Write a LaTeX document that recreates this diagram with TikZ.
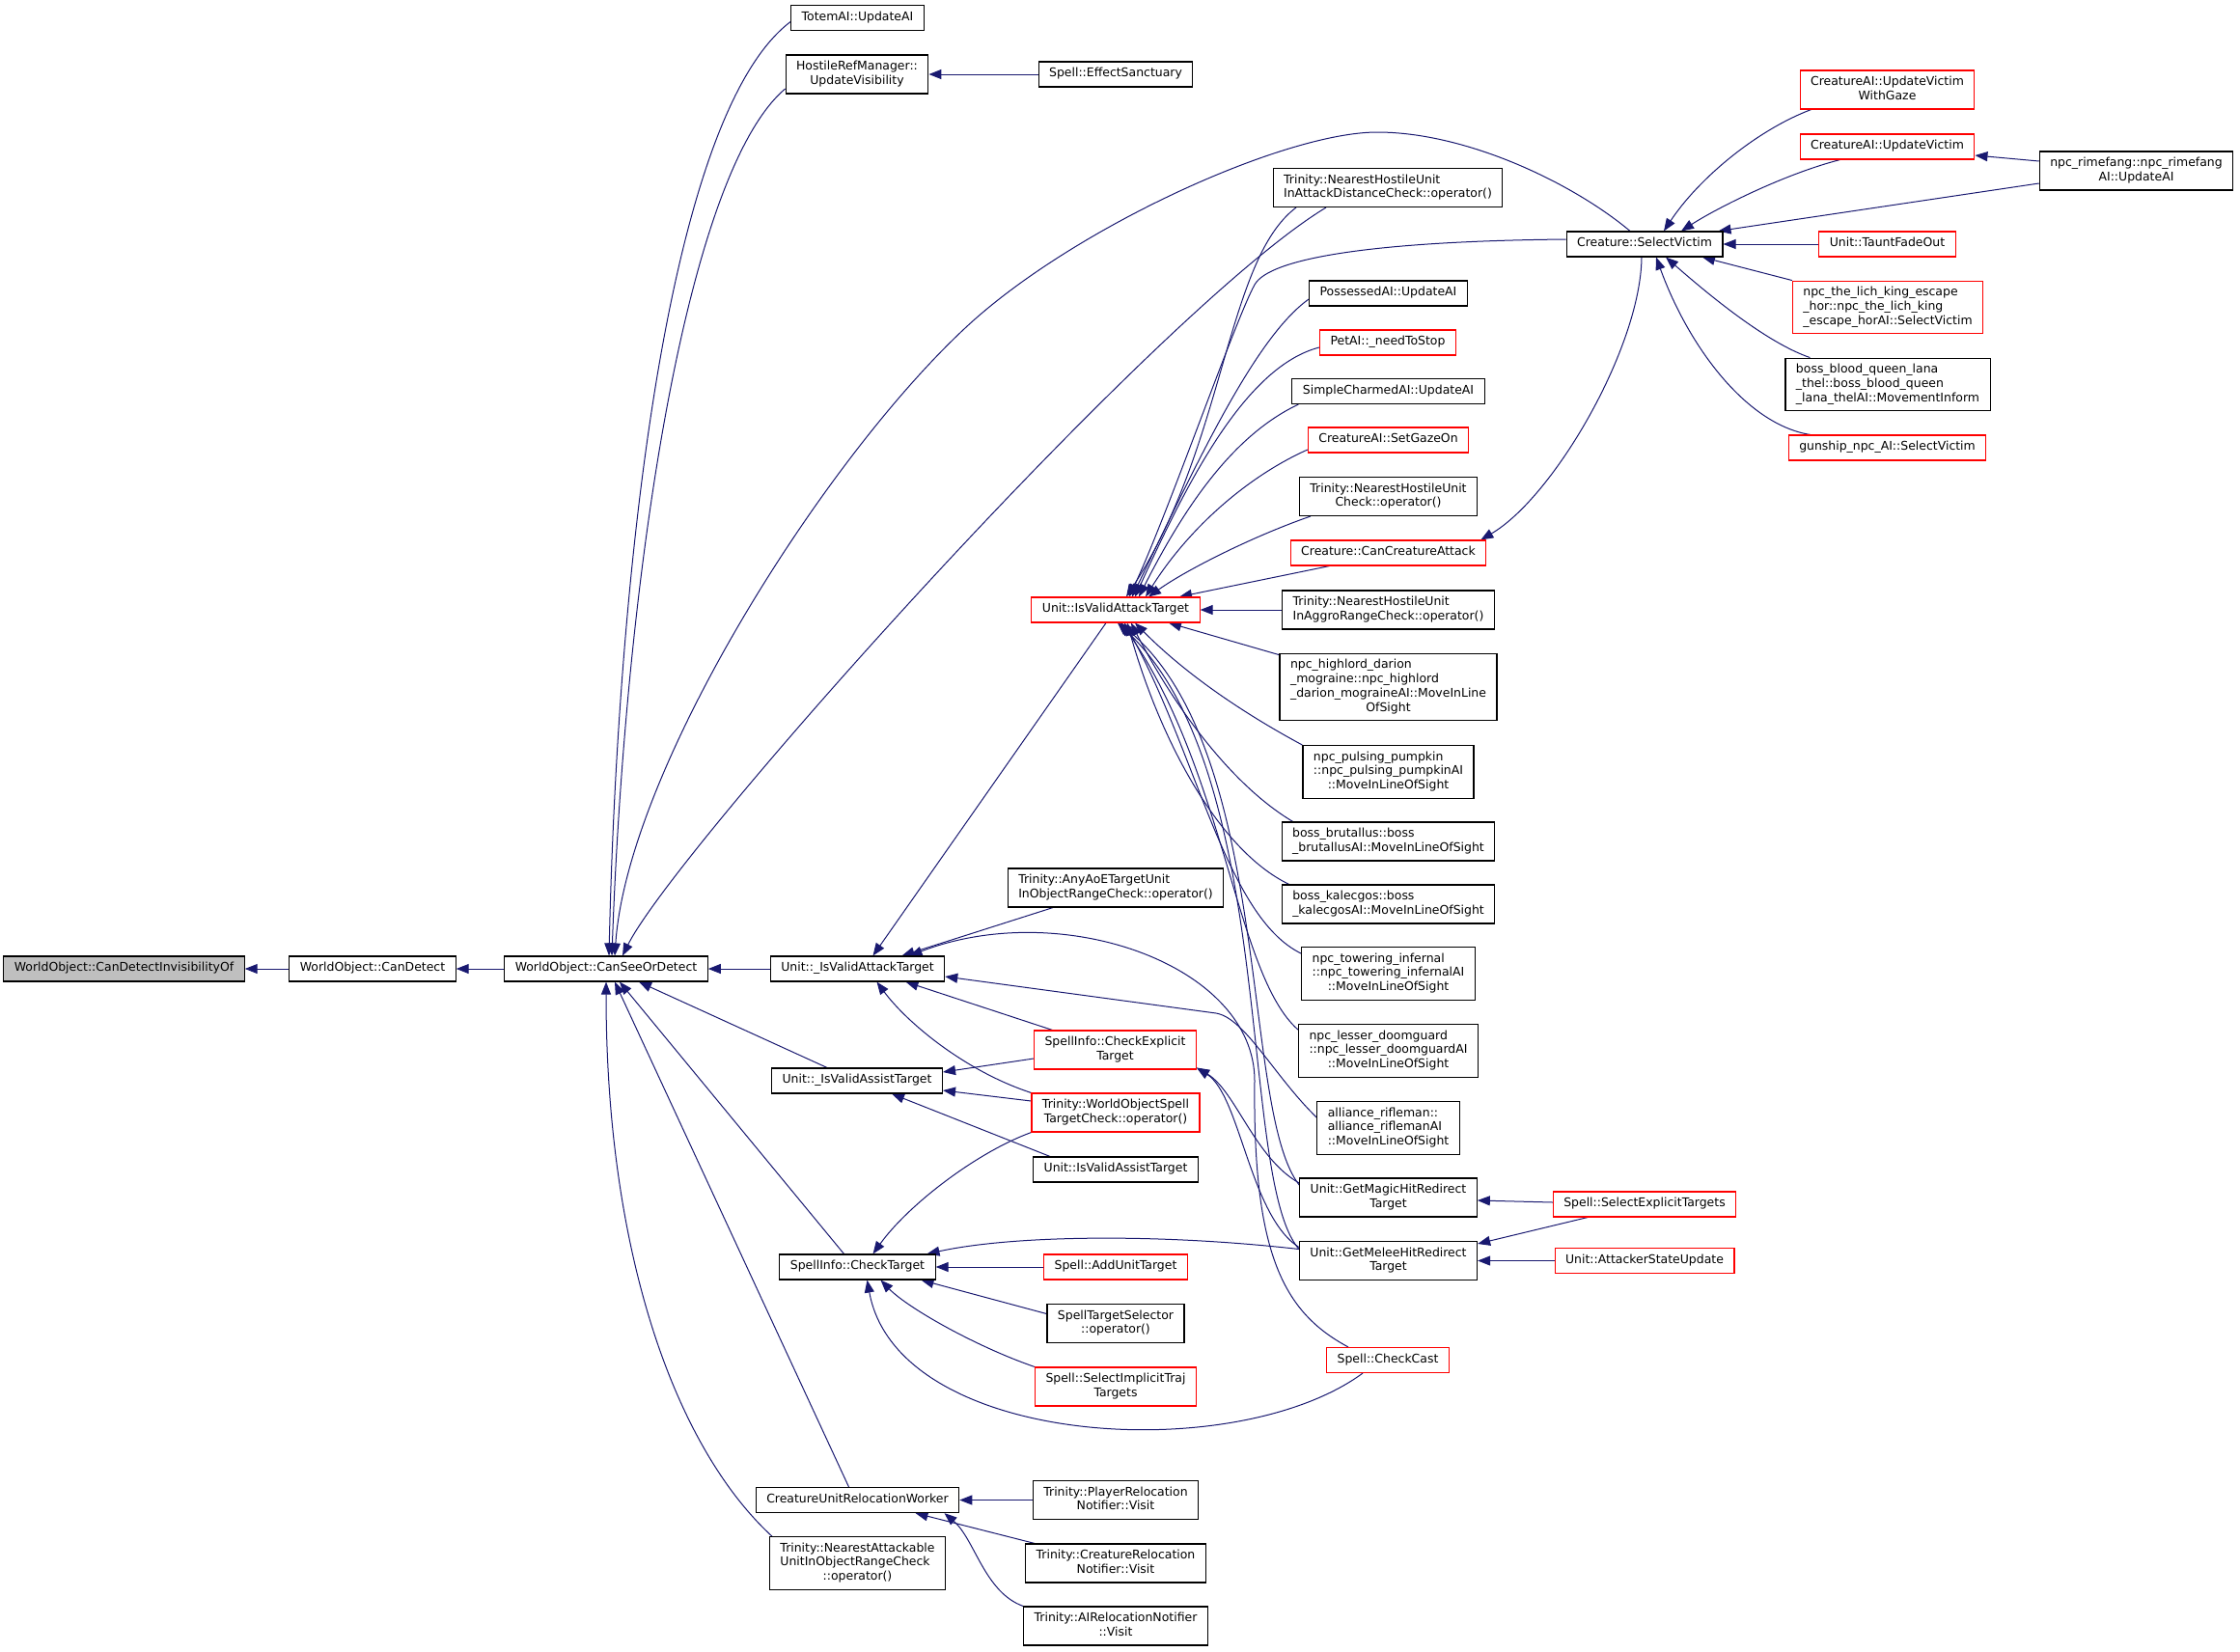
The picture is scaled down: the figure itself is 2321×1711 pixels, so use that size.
\documentclass[tikz,border=0pt]{standalone}
\usepackage{fontspec}
\setmainfont{DejaVu Sans}
\usetikzlibrary{arrows.meta,backgrounds}
\definecolor{edgeblue}{RGB}{25,25,112}
\definecolor{boxred}{RGB}{255,0,0}
\definecolor{rootgrey}{RGB}{191,191,191}
\newcommand{\lbl}[2]{\begin{tabular}{@{}l@{}}#1\\\multicolumn{1}{@{}c@{}}{#2}\end{tabular}}

\begin{document}
\begin{tikzpicture}[x=1pt,y=1pt]
\tikzstyle{func}=[rectangle,draw=black,line width=1.1pt,fill=white,inner xsep=11pt,inner ysep=5.2pt,minimum height=26pt,font=\fontsize{12.45}{14.8}\selectfont,execute at begin node=\strut]
\tikzstyle{redfunc}=[func,draw=boxred]
\tikzstyle{call}=[draw=edgeblue,line width=1pt,arrows={Triangle[length=13pt,width=10pt]-}]
\useasboundingbox (0,0) rectangle (2321,-1711);

\node [func,fill=rootgrey] (inv) at (128.5,-1004) {WorldObject::CanDetectInvisibilityOf};
\node [func] (det) at (386,-1004) {WorldObject::CanDetect};
\node [func] (see) at (628,-1004) {WorldObject::CanSeeOrDetect};
\node [func] (totem) at (888.5,-18.5) {TotemAI::UpdateAI};
\node [func] (hrm) at (888,-77) {\lbl{HostileRefManager::}{UpdateVisibility}};
\node [func] (sanct) at (1156,-77) {Spell::EffectSanctuary};
\node [func] (iadc) at (1438,-194.5) {\lbl{Trinity::NearestHostileUnit}{InAttackDistanceCheck::operator()}};
\node [func] (poss) at (1438.5,-304) {PossessedAI::UpdateAI};
\node [redfunc] (pet) at (1438,-355) {PetAI::\_needToStop};
\node [func] (simple) at (1438.5,-405.5) {SimpleCharmedAI::UpdateAI};
\node [redfunc] (gaze) at (1438.5,-456) {CreatureAI::SetGazeOn};
\node [func] (nhuc) at (1438.5,-514.5) {\lbl{Trinity::NearestHostileUnit}{Check::operator()}};
\node [redfunc] (cca) at (1438.5,-573) {Creature::CanCreatureAttack};
\node [redfunc] (iva) at (1156,-632) {Unit::IsValidAttackTarget};
\node [func] (aggro) at (1438.5,-632) {\lbl{Trinity::NearestHostileUnit}{InAggroRangeCheck::operator()}};
\node [func] (highlord) at (1438.5,-712) {\lbl{npc\_highlord\_darion\\\_mograine::npc\_highlord\\\_darion\_mograineAI::MoveInLine}{OfSight}};
\node [func] (pumpkin) at (1438.5,-800) {\lbl{npc\_pulsing\_pumpkin\\::npc\_pulsing\_pumpkinAI}{::MoveInLineOfSight}};
\node [func] (brutallus) at (1438.5,-872) {\lbl{boss\_brutallus::boss}{\_brutallusAI::MoveInLineOfSight}};
\node [func] (kalecgos) at (1438.5,-937) {\lbl{boss\_kalecgos::boss}{\_kalecgosAI::MoveInLineOfSight}};
\node [func] (towering) at (1438.5,-1009) {\lbl{npc\_towering\_infernal\\::npc\_towering\_infernalAI}{::MoveInLineOfSight}};
\node [func] (doomguard) at (1438.5,-1089) {\lbl{npc\_lesser\_doomguard\\::npc\_lesser\_doomguardAI}{::MoveInLineOfSight}};
\node [func] (rifleman) at (1438.5,-1169) {\lbl{alliance\_rifleman::\\alliance\_riflemanAI}{::MoveInLineOfSight}};
\node [func] (magic) at (1438.5,-1241) {\lbl{Unit::GetMagicHitRedirect}{Target}};
\node [func] (melee) at (1438.5,-1306.5) {\lbl{Unit::GetMeleeHitRedirect}{Target}};
\node [func] (aoe) at (1156,-920) {\lbl{Trinity::AnyAoETargetUnit}{InObjectRangeCheck::operator()}};
\node [func] (uiva) at (888.5,-1004) {Unit::\_IsValidAttackTarget};
\node [redfunc] (cet) at (1155.5,-1088) {\lbl{SpellInfo::CheckExplicit}{Target}};
\node [func] (uiast) at (888,-1120) {Unit::\_IsValidAssistTarget};
\node [redfunc] (wost) at (1156,-1153) {\lbl{Trinity::WorldObjectSpell}{TargetCheck::operator()}};
\node [func] (iast) at (1156,-1212) {Unit::IsValidAssistTarget};
\node [func] (ct) at (888.5,-1313) {SpellInfo::CheckTarget};
\node [redfunc] (aut) at (1156,-1313) {Spell::AddUnitTarget};
\node [func] (sts) at (1156,-1371.5) {\lbl{SpellTargetSelector}{::operator()}};
\node [redfunc] (sitt) at (1156,-1437) {\lbl{Spell::SelectImplicitTraj}{Targets}};
\node [redfunc] (cc) at (1438,-1409.5) {Spell::CheckCast};
\node [func] (curw) at (888.5,-1554.5) {CreatureUnitRelocationWorker};
\node [func] (prn) at (1156,-1554.5) {\lbl{Trinity::PlayerRelocation}{Notifier::Visit}};
\node [func] (nauc) at (888.5,-1620) {\lbl{Trinity::NearestAttackable\\UnitInObjectRangeCheck}{::operator()}};
\node [func] (crn) at (1156,-1620) {\lbl{Trinity::CreatureRelocation}{Notifier::Visit}};
\node [func] (airn) at (1156,-1685) {\lbl{Trinity::AIRelocationNotifier}{::Visit}};
\node [redfunc] (uvg) at (1955.5,-93) {\lbl{CreatureAI::UpdateVictim}{WithGaze}};
\node [redfunc] (uv) at (1955.5,-152) {CreatureAI::UpdateVictim};
\node [func] (rime) at (2213.5,-177) {\lbl{npc\_rimefang::npc\_rimefang}{AI::UpdateAI}};
\node [func] (sv) at (1704,-253) {Creature::SelectVictim};
\node [redfunc] (tfo) at (1955.5,-253) {Unit::TauntFadeOut};
\node [redfunc] (lich) at (1956,-318.5) {\lbl{npc\_the\_lich\_king\_escape\\\_hor::npc\_the\_lich\_king}{\_escape\_horAI::SelectVictim}};
\node [func] (blood) at (1956,-398.5) {\lbl{boss\_blood\_queen\_lana\\\_thel::boss\_blood\_queen}{\_lana\_thelAI::MovementInform}};
\node [redfunc] (gun) at (1955.5,-464) {gunship\_npc\_AI::SelectVictim};
\node [redfunc] (selexp) at (1704,-1248) {Spell::SelectExplicitTargets};
\node [redfunc] (asu) at (1704,-1306.5) {Unit::AttackerStateUpdate};

\begin{scope}[on background layer]
\path (inv) edge[call] (det);
\path (det) edge[call] (see);
\path (see) edge[call] (uiva);
\path (hrm) edge[call] (sanct);
\path (iva) edge[call] (aggro);
\path (ct) edge[call] (aut);
\path (curw) edge[call] (prn);
\path (sv) edge[call] (tfo);
\path (melee) edge[call] (asu);

\draw[call] ([xshift=3pt]see.north) .. controls (640,-600) and (690,-120) .. ([yshift=-4pt]totem.west);
\draw[call] ([xshift=6pt]see.north) .. controls (648,-600) and (710,-180) .. ([yshift=-15pt]hrm.west);
\draw[call] ([xshift=9pt]see.north) .. controls (650,-800) and (850,-480) .. (1000,-340) .. controls (1110,-237) and (1330,-137) .. (1427,-137) .. controls (1520,-137) and (1630,-190) .. ([xshift=-15pt]sv.north);
\draw[call] ([xshift=17pt]see.north) .. controls (700,-880) and (1200,-320) .. ([xshift=-64pt]iadc.south);
\draw[call] ([xshift=34pt]see.south) -- ([xshift=-31pt]uiast.north);
\draw[call] ([xshift=14pt]see.south) -- ([xshift=-14pt]ct.north);
\draw[call] ([xshift=9pt]see.south) -- ([xshift=-9pt]curw.north);
\draw[call] (see.south) .. controls (628,-1300) and (700,-1500) .. ([xshift=3pt]nauc.north west);

\draw[call] ([xshift=16pt]uiva.north) -- ([xshift=-10pt]iva.south);
\draw[call] ([xshift=46pt]uiva.north) -- ([xshift=-65pt]aoe.south);
\draw[call] ([xshift=54pt]uiva.north) .. controls (1100,-930) and (1300,-1000) .. (1300,-1120) .. controls (1298,-1300) and (1330,-1360) .. ([xshift=-41pt]cc.north);
\draw[call] ([yshift=-8pt]uiva.east) -- (1260,-1050) .. controls (1290,-1055) and (1320,-1115) .. ([yshift=11pt]rifleman.west);
\draw[call] ([xshift=50pt]uiva.south) -- ([xshift=-65pt]cet.north);
\draw[call] ([xshift=20pt]uiva.south) .. controls (940,-1060) and (1000,-1110) .. (wost.north west);

\draw[call] ([yshift=9pt]uiast.east) -- ([yshift=-9pt]cet.west);
\draw[call] ([yshift=-10pt]uiast.east) -- ([yshift=12pt]wost.west);
\draw[call] ([xshift=36pt]uiast.south) -- ([xshift=-68pt]iast.north);

\draw[call] ([xshift=16pt]ct.north) .. controls (940,-1250) and (1010,-1195) .. (wost.south west);
\draw[call] ([xshift=66pt]ct.south) -- ([yshift=10pt]sts.west);
\draw[call] ([xshift=24pt]ct.south) .. controls (940,-1355) and (1010,-1395) .. (sitt.north west);
\draw[call] ([xshift=10pt]ct.south) .. controls (930,-1500) and (1280,-1520) .. ([xshift=-26pt]cc.south);
\draw[call] ([xshift=72pt]ct.north) .. controls (1050,-1280) and (1200,-1278) .. ([yshift=12pt]melee.west);

\draw[call] ([xshift=60pt]curw.south) -- ([xshift=10pt]crn.north west);
\draw[call] ([xshift=90pt]curw.south) .. controls (1010,-1595) and (1020,-1650) .. (airn.north west);

\draw[call] ([xshift=11pt]iva.north) .. controls (1270,-460) and (1270,-270) .. ([xshift=-95pt]iadc.south);
\draw[call] ([xshift=14pt]iva.north) .. controls (1210,-533) and (1280,-331) .. (1300,-295) .. controls (1315,-268) and (1420,-250) .. ([yshift=5pt]sv.west);
\draw[call] ([xshift=17pt]iva.north) .. controls (1240,-480) and (1300,-350) .. ([yshift=-6pt]poss.west);
\draw[call] ([xshift=20pt]iva.north) .. controls (1230,-500) and (1290,-380) .. ([yshift=-5pt]pet.west);
\draw[call] ([xshift=24pt]iva.north) .. controls (1230,-520) and (1280,-450) .. ([xshift=7pt]simple.south west);
\draw[call] ([xshift=31pt]iva.north) .. controls (1230,-550) and (1290,-495) .. ([yshift=-10pt]gaze.west);
\draw[call] ([xshift=34pt]iva.north) .. controls (1230,-590) and (1300,-555) .. ([xshift=12pt]nhuc.south west);
\draw[call] ([xshift=66pt]iva.north) -- ([xshift=-61pt]cca.south);
\draw[call] ([xshift=55pt]iva.south) -- ([yshift=-2pt]highlord.north west);
\draw[call] ([xshift=20pt]iva.south) .. controls (1230,-700) and (1290,-740) .. (pumpkin.north west);
\draw[call] ([xshift=16pt]iva.south) .. controls (1210,-720) and (1270,-810) .. ([xshift=12pt]brutallus.north west);
\draw[call] ([xshift=12pt]iva.south) .. controls (1200,-760) and (1260,-880) .. ([xshift=8pt]kalecgos.north west);
\draw[call] ([xshift=9pt]iva.south) .. controls (1240,-780) and (1270,-950) .. ([yshift=-7pt]towering.north west);
\draw[call] ([xshift=6pt]iva.south) .. controls (1270,-800) and (1280,-1010) .. ([yshift=-6pt]doomguard.north west);
\draw[call] ([xshift=4pt]iva.south) .. controls (1320,-780) and (1285,-1150) .. ([yshift=13pt]magic.west);
\draw[call] ([xshift=2pt]iva.south) .. controls (1325,-800) and (1282,-1220) .. ([yshift=12pt]melee.west);

\draw[call] ([yshift=2pt]cet.south east) .. controls (1280,-1130) and (1300,-1200) .. ([yshift=15pt]magic.west);
\draw[call] ([yshift=2pt]cet.south east) .. controls (1285,-1135) and (1295,-1260) .. ([yshift=14pt]melee.west);
\draw[call] ([yshift=-3pt]magic.east) -- ([yshift=2pt]selexp.west);
\draw[call] ([yshift=-3pt]melee.north east) -- ([xshift=-59pt]selexp.south);

\draw[call] ([xshift=20pt]sv.north) .. controls (1760,-185) and (1820,-135) .. ([xshift=12pt]uvg.south west);
\draw[call] ([xshift=38pt]sv.north) .. controls (1780,-215) and (1850,-180) .. ([xshift=42pt]uv.south west);
\draw[call] ([xshift=-5pt]sv.north east) -- ([yshift=-13pt]rime.west);
\draw[call] ([yshift=-9pt]uv.east) -- ([yshift=10pt]rime.west);
\draw[call] ([xshift=60pt]sv.south) -- (lich.north west);
\draw[call] ([xshift=22pt]sv.south) .. controls (1770,-305) and (1830,-355) .. ([xshift=26pt]blood.north west);
\draw[call] ([xshift=12pt]sv.south) .. controls (1750,-360) and (1810,-440) .. ([xshift=23pt]gun.north west);
\draw[call] ([xshift=-6pt]cca.north east) .. controls (1610,-515) and (1700,-360) .. ([xshift=-3pt]sv.south);
\end{scope}
\end{tikzpicture}
\end{document}
